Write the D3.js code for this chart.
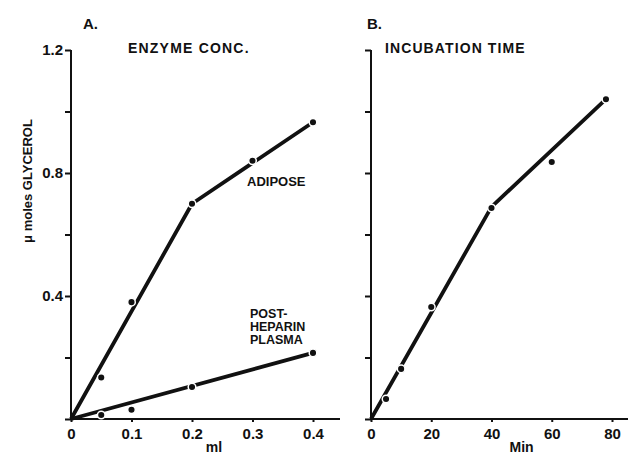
<!DOCTYPE html>
<html>
<head>
<meta charset="utf-8">
<script src="https://cdn.jsdelivr.net/npm/d3@7"></script>
<style>
  body { margin: 0; background: #fff; }
  text { font-family: "Liberation Sans", Arial, sans-serif; font-weight: bold; fill: #111; }
</style>
</head>
<body>
<div id="chart"></div>
<script>
// panel A - enzyme concentration (ml)
var adiposeX = [0.05, 0.1, 0.2, 0.3, 0.4];
var adiposeY = [0.135, 0.38, 0.70, 0.84, 0.965];
var adiposeFitX = [0, 0.2, 0.4];
var adiposeFitY = [0, 0.70, 0.965];

var plasmaX = [0.05, 0.1, 0.2, 0.4];
var plasmaY = [0.013, 0.03, 0.104, 0.215];
var plasmaFitX = [0, 0.4];
var plasmaFitY = [0, 0.215];

// panel B - incubation time (min)
var timeX = [5, 10, 20, 40, 60, 78];
var timeY = [0.065, 0.163, 0.364, 0.686, 0.836, 1.04];
var timeFitX = [0, 40, 78];
var timeFitY = [0, 0.69, 1.04];

var yTicks = [0, 0.2, 0.4, 0.6, 0.8, 1.0, 1.2];
var yLabelled = [0.4, 0.8, 1.2];
var mlTicks = [0, 0.1, 0.2, 0.3, 0.4];
var minTicks = [0, 20, 40, 60, 80];

var width = 628, height = 458;
var svg = d3.select('#chart').append('svg')
  .attr('width', width)
  .attr('height', height);

var y = d3.scaleLinear().domain([0, 1.2]).range([419, 50]);
var xA = d3.scaleLinear().domain([0, 0.4]).range([71, 313]);
var xB = d3.scaleLinear().domain([0, 80]).range([371, 612]);

var zip = function(xs, ys) { return xs.map(function(v, i) { return [v, ys[i]]; }); };

var styleAxis = function(g) {
  g.select('.domain').remove();
  g.selectAll('line').attr('stroke', '#111').attr('stroke-width', 2);
  g.selectAll('text').style('font-size', '15px');
};

var drawPanel = function(x, xEnd, xTicks, xFmt, yFmt) {
  // y axis
  var ya = svg.append('g').attr('transform', 'translate(' + x(0) + ',0)')
    .call(d3.axisLeft(y).tickValues(yTicks).tickSize(6).tickPadding(2).tickFormat(yFmt));
  styleAxis(ya);
  ya.append('line').attr('x1', 0).attr('x2', 0).attr('y1', y(1.2)).attr('y2', y(0))
    .attr('stroke', '#111').attr('stroke-width', 2);

  // x axis
  var xa = svg.append('g').attr('transform', 'translate(0,' + y(0) + ')')
    .call(d3.axisBottom(x).tickValues(xTicks).tickSize(3).tickPadding(6).tickFormat(xFmt));
  styleAxis(xa);
  xa.append('line').attr('x1', x(0)).attr('x2', xEnd).attr('y1', 0).attr('y2', 0)
    .attr('stroke', '#111').attr('stroke-width', 2);
};

drawPanel(xA, 340, mlTicks, function(d) { return d === 0 ? '0' : d3.format('.1f')(d); },
  function(d) { return yLabelled.indexOf(d) >= 0 ? d3.format('.1f')(d) : ''; });
drawPanel(xB, 628, minTicks, d3.format('d'), function() { return ''; });

var line = function(x) {
  return d3.line().x(function(d) { return x(d[0]); }).y(function(d) { return y(d[1]); });
};

var drawSeries = function(x, fx, fy, px, py) {
  svg.append('path')
    .attr('d', line(x)(zip(fx, fy)))
    .attr('fill', 'none')
    .attr('stroke', '#111')
    .attr('stroke-width', 3.8)
    .attr('stroke-linejoin', 'round');
  svg.selectAll(null).data(zip(px, py)).enter().append('circle')
    .attr('cx', function(d) { return x(d[0]); })
    .attr('cy', function(d) { return y(d[1]); })
    .attr('r', 3.8)
    .attr('fill', '#111')
    .attr('stroke', '#fff')
    .attr('stroke-width', 1.5);
};

drawSeries(xA, adiposeFitX, adiposeFitY, adiposeX, adiposeY);
drawSeries(xA, plasmaFitX, plasmaFitY, plasmaX, plasmaY);
drawSeries(xB, timeFitX, timeFitY, timeX, timeY);

// labels
var txt = function(x, yy, s, size, anchor) {
  return svg.append('text').attr('x', x).attr('y', yy).text(s)
    .style('font-size', size + 'px').attr('text-anchor', anchor || 'start');
};
txt(83, 29, 'A.', 15);
txt(128, 53, 'ENZYME CONC.', 14).style('letter-spacing', '1.2px');
txt(367, 29, 'B.', 15);
txt(385, 53, 'INCUBATION TIME', 14).style('letter-spacing', '1.1px');
txt(247, 186, 'ADIPOSE', 13);
txt(250, 318, 'POST-', 12.5);
txt(250, 331, 'HEPARIN', 12.5);
txt(250, 344, 'PLASMA', 12.5);
txt(xA(0.2) + 22, 452, 'ml', 14, 'middle');
txt(xB(50), 452, 'Min', 14, 'middle');

svg.append('text')
  .attr('transform', 'translate(32,181) rotate(-90)')
  .attr('text-anchor', 'middle')
  .style('font-size', '13px')
  .text('\u03bc moles GLYCEROL');
</script>
</body>
</html>
